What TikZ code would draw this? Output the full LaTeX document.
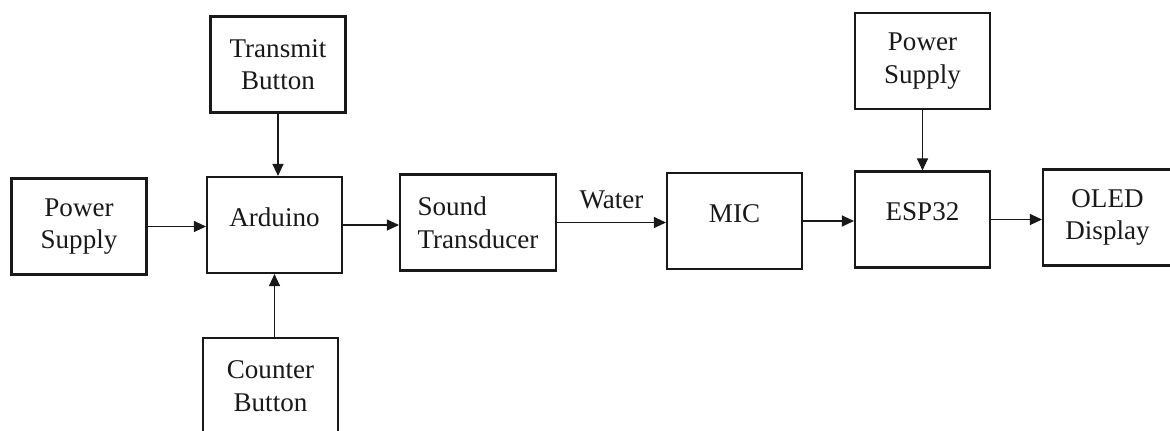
\documentclass[tikz,border=0pt]{standalone}
\usepackage{fontspec}
\setmainfont{Liberation Serif}
\usepackage{tikz}
\usetikzlibrary{arrows.meta, positioning}
\definecolor{mydark}{RGB}{25,25,25}
\tikzset{
  block/.style={rectangle, draw=mydark, line width=1.2pt,
    minimum width=2.7cm, minimum height=1.92cm, align=center, inner sep=2pt},
  oneline/.style={text depth=9pt},
  arrow/.style={-{Triangle[length=0.24cm, width=0.22cm]}, line width=0.6pt, color=mydark}
}
\begin{document}
\begin{tikzpicture}[x=0.02cm, y=-0.02cm, every node/.style={font=\fontsize{15.4}{18.5}\selectfont, text=mydark}]
    \useasboundingbox (0,0) rectangle (1170,430);
    \clip (0,0) rectangle (1170,430);

    % transmitter side
    \node[block] (psL) at (79,226.5) {Power\\Supply};
    \node[block, oneline] (ard) at (274.5,225) {Arduino};
    \node[block] (txbtn) at (278,64.5) {Transmit\\Button};
    \node[block] (cntbtn) at (270.5,386) {Counter\\Button};
    \node[block, minimum width=3.12cm, align=left] (snd) at (478,222.5) {Sound\\Transducer};

    % receiver side
    \node[block, oneline] (mic) at (734.5,221) {MIC};
    \node[block, oneline] (esp) at (922.5,219.5) {ESP32};
    \node[block] (psR) at (922.5,61) {Power\\Supply};
    \node[block, minimum width=2.58cm] (oled) at (1107.5,217.5) {OLED\\Display};

    % connections
    \draw[arrow] (psL.east) -- (psL.east -| ard.west);
    \draw[arrow] (txbtn.south) -- (txbtn.south |- ard.north);
    \draw[arrow] (cntbtn.north -| ard.south) -- (ard.south);
    \draw[arrow] (ard.east) -- (ard.east -| snd.west);
    \draw[arrow] (snd.east) -- node[above=4pt] (water) {Water} (snd.east -| mic.west);
    \draw[arrow] (mic.east) -- (mic.east -| esp.west);
    \draw[arrow] (psR.south) -- (psR.south |- esp.north);
    \draw[arrow] (esp.east) -- (esp.east -| oled.west);
\end{tikzpicture}
\end{document}
